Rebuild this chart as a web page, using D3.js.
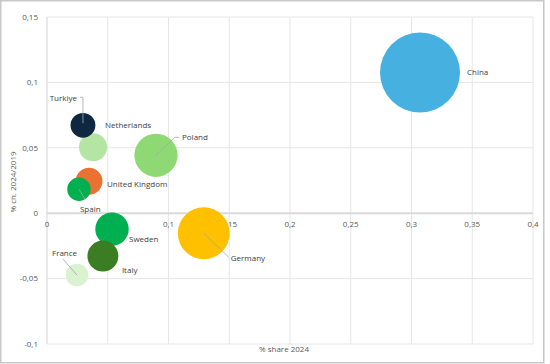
<!DOCTYPE html>
<html><head><meta charset="utf-8">
<script src="https://cdn.jsdelivr.net/npm/d3@7"></script>
<style>
html,body{margin:0;padding:0;background:#fff;}
svg{display:block;font-family:"Open Sans",sans-serif;}
</style></head>
<body>
<svg id="chart" width="550" height="364"></svg>
<script>
// ---- data ----
const countries = ["China","Germany","Poland","Netherlands","Turkiye","Sweden","Italy","United Kingdom","Spain","France"];
const share2024 = [0.307,0.129,0.0897,0.0379,0.0296,0.0535,0.046,0.0346,0.0263,0.0247];
const change2024_2019 = [0.1076,-0.0153,0.0443,0.0504,0.0672,-0.0122,-0.0328,0.0244,0.0183,-0.0473];
const bubbleColors = ["#46B1E1","#FFC000","#8ED973","#B4E5A2","#0E2841","#00B050","#3B7D23","#E97132","#00B050","#D9F2D0"];
const xTicks = [0,0.05,0.1,0.15,0.2,0.25,0.3,0.35,0.4];
const yTicks = [-0.1,-0.05,0,0.05,0.1,0.15];
const xTitle = "% share 2024";
const yTitle = "% ch. 2024/2019";

// label layout (offsets from bubble centre, in px) — styling only
const labelLayout = {
  "China":{dx:47,dy:0,anchor:"start",leader:null},
  "Germany":{dx:27,dy:25,anchor:"start",leader:[[0,0],[25,24]]},
  "Poland":{dx:26,dy:-18,anchor:"start",leader:[[0,0],[19,-18],[23,-18]]},
  "Netherlands":{dx:12,dy:-22,anchor:"start",leader:null},
  "Turkiye":{dx:-6,dy:-27,anchor:"end",leader:[[-3,-28],[0,-28],[0,-2]]},
  "Sweden":{dx:17,dy:10,anchor:"start",leader:null},
  "Italy":{dx:19,dy:14,anchor:"start",leader:null},
  "United Kingdom":{dx:18,dy:3,anchor:"start",leader:null},
  "Spain":{dx:1,dy:20,anchor:"start",leader:[[0,0],[6,10]]},
  "France":{dx:-25,dy:-22,anchor:"start",leader:[[0,0],[-14,-16]]}
};

const data = countries.map((c,i)=>({name:c,x:share2024[i],y:change2024_2019[i],color:bubbleColors[i]}));

const svg = d3.select("#chart");
const x = d3.scaleLinear().domain([0,0.4]).range([47,533]);
const y = d3.scaleLinear().domain([-0.1,0.15]).range([344,17]);
const r = d3.scaleSqrt().domain([0,d3.max(share2024)]).range([0,40]);

const loc = d3.formatLocale({decimal:",",thousands:".",grouping:[3],currency:["","€"],minus:"-"});
const fmt = loc.format("~g");

// outer border
svg.append("rect").attr("x",0.75).attr("y",0.75).attr("width",543).attr("height",362)
  .attr("fill","#fff").attr("stroke","#C8C8C8").attr("stroke-width",1.5);

// gridlines
const grid = svg.append("g");
grid.selectAll(".vg").data(xTicks.filter(d=>d!==0)).join("line")
  .attr("x1",d=>x(d)).attr("x2",d=>x(d)).attr("y1",y(0.15)).attr("y2",y(-0.1))
  .attr("stroke","#E6E6E6").attr("stroke-width",1);
grid.selectAll(".hg").data(yTicks.filter(d=>d!==0)).join("line")
  .attr("x1",x(0)).attr("x2",x(0.4)).attr("y1",d=>y(d)).attr("y2",d=>y(d))
  .attr("stroke","#E6E6E6").attr("stroke-width",1);
// axes lines
grid.append("line").attr("x1",x(0)).attr("x2",x(0)).attr("y1",y(0.15)).attr("y2",y(-0.1))
  .attr("stroke","#DADADA").attr("stroke-width",1.2);
grid.append("line").attr("x1",x(0)).attr("x2",x(0.4)).attr("y1",y(0)).attr("y2",y(0))
  .attr("stroke","#DADADA").attr("stroke-width",2);

// tick labels
svg.append("g").selectAll("text").data(yTicks).join("text")
  .attr("x",x(0)-9).attr("y",d=>y(d)).attr("dy","0.35em")
  .attr("text-anchor","end").attr("font-size",8).attr("fill","#595959")
  .text(d=>fmt(d));
svg.append("g").selectAll("text").data(xTicks).join("text")
  .attr("x",d=>x(d)).attr("y",y(0)+11).attr("dy","0.35em")
  .attr("text-anchor","middle").attr("font-size",8).attr("fill","#595959")
  .text(d=>fmt(d));

// axis titles
svg.append("text").attr("x",284).attr("y",349).attr("dy","0.35em").attr("text-anchor","middle")
  .attr("font-size",8).attr("fill","#595959").text(xTitle);
svg.append("text").attr("transform","translate(13,182) rotate(-90)").attr("dy","0.35em")
  .attr("text-anchor","middle").attr("font-size",8).attr("fill","#595959").text(yTitle);

// bubbles
svg.append("g").selectAll("circle").data(data).join("circle")
  .attr("cx",d=>x(d.x)).attr("cy",d=>y(d.y)).attr("r",d=>r(d.x))
  .attr("fill",d=>d.color);

// leader lines
const line = d3.line();
svg.append("g").selectAll("path").data(data.filter(d=>labelLayout[d.name].leader)).join("path")
  .attr("d",d=>line(labelLayout[d.name].leader.map(p=>[x(d.x)+p[0],y(d.y)+p[1]])))
  .attr("fill","none").attr("stroke","#A6A6A6").attr("stroke-width",0.8);

// labels
svg.append("g").selectAll("text").data(data).join("text")
  .attr("x",d=>x(d.x)+labelLayout[d.name].dx).attr("y",d=>y(d.y)+labelLayout[d.name].dy)
  .attr("dy","0.35em").attr("text-anchor",d=>labelLayout[d.name].anchor)
  .attr("font-size",8).attr("fill","#404040").text(d=>d.name);
</script>
</body></html>
